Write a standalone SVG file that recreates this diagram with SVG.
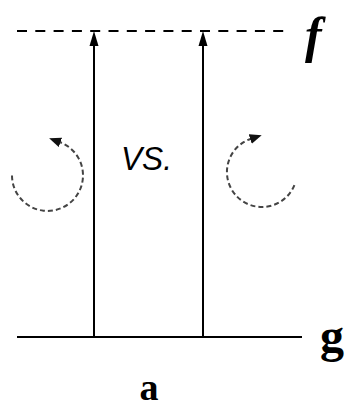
<svg xmlns="http://www.w3.org/2000/svg" width="345" height="409" viewBox="0 0 345 409">
<style>
.axis{stroke:#000;stroke-width:2;fill:none}
.arr{stroke:#000;stroke-width:2;fill:none}
.rot{stroke:#444;stroke-width:2;fill:none;stroke-dasharray:5 3}
.lbl{font-family:"Liberation Serif","Times New Roman",serif;font-weight:bold;fill:#000}
.vs{font-family:"Liberation Sans",Arial,sans-serif;font-style:italic;fill:#000}
</style>
<defs>
<marker id="ah" viewBox="0 0 12 10" refX="1" refY="5" markerWidth="12" markerHeight="10" markerUnits="userSpaceOnUse" orient="auto">
<path d="M0,0 L12,5 L0,10 z" fill="#111"/>
</marker>
</defs>
<rect width="345" height="409" fill="#fff"/>
<g id="line-f">
<line class="axis" x1="17" y1="31" x2="291" y2="31" stroke-dasharray="10 8.3"/>
<text class="lbl" x="305" y="52" font-size="50" font-style="italic">f</text>
</g>
<g id="line-g">
<line class="axis" x1="17" y1="337" x2="302" y2="337"/>
<text class="lbl" x="320" y="352" font-size="48">g</text>
</g>
<g id="connectors">
<line class="arr" x1="94" y1="337" x2="94" y2="44"/>
<polygon points="94,31 89.5,46 98.5,46" fill="#000"/>
<line class="arr" x1="203" y1="337" x2="203" y2="44"/>
<polygon points="203,31 198.5,46 207.5,46" fill="#000"/>
<path class="rot" d="M12,175.5 A35.5,35.5 0 1 0 59.5,142" marker-end="url(#ah)"/>
<path class="rot" d="M294.4,185.1 A35,35 0 1 1 251.2,138.7" marker-end="url(#ah)"/>
</g>
<g id="vs">
<text class="vs" x="121" y="170" font-size="33" textLength="51" lengthAdjust="spacingAndGlyphs">VS.</text>
</g>
<g id="caption">
<text class="lbl" x="149" y="400" font-size="38" text-anchor="middle">a</text>
</g>
</svg>
